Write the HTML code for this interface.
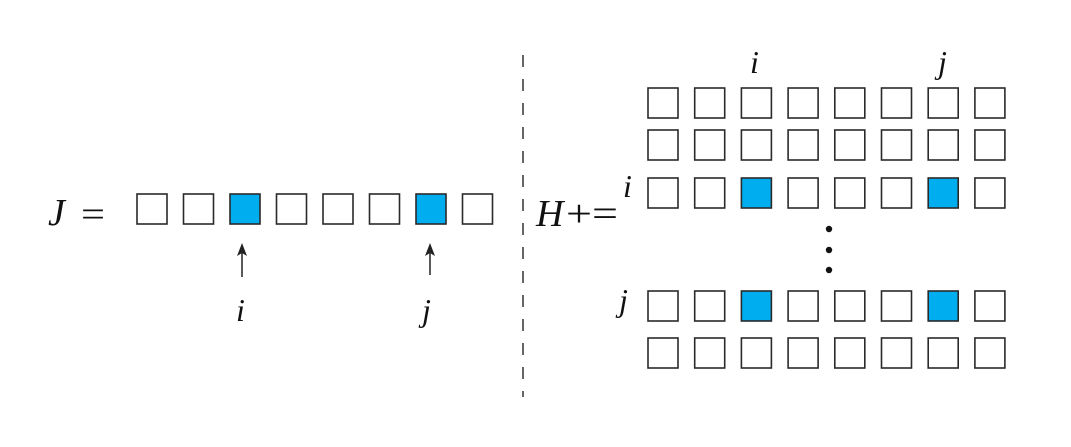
<!DOCTYPE html>
<html><head><style>body{margin:0;background:#fff}</style></head><body>
<svg width="1071" height="442" xmlns="http://www.w3.org/2000/svg" font-family="Liberation Serif, serif" font-style="italic">
<rect width="1071" height="442" fill="#fff"/>
<g stroke="#2a2a2a" stroke-width="1.6" fill="#fff">
<rect x="137" y="194" width="30" height="30"/>
<rect x="183.5" y="194" width="30" height="30"/>
<rect x="230" y="194" width="30" height="30" fill="#00AEEF"/>
<rect x="276.5" y="194" width="30" height="30"/>
<rect x="323" y="194" width="30" height="30"/>
<rect x="369.5" y="194" width="30" height="30"/>
<rect x="416" y="194" width="30" height="30" fill="#00AEEF"/>
<rect x="462.5" y="194" width="30" height="30"/>
</g>
<g id="grid" stroke="#2a2a2a" stroke-width="1.6" fill="#fff"></g>
<g stroke="#222" stroke-width="1.5"><line x1="242" y1="277" x2="242" y2="250"/><line x1="430" y1="275" x2="430" y2="250"/></g>
<polygon points="242,243 237,256 242,253 247,256" fill="#222"/>
<polygon points="430,243 425,256 430,253 435,256" fill="#222"/>
<line x1="523" y1="55" x2="523" y2="397" stroke="#333" stroke-width="1.5" stroke-dasharray="12,12"/>
<g fill="#111"><circle cx="829" cy="229" r="3.2"/><circle cx="829" cy="250" r="3.2"/><circle cx="829" cy="270" r="3.2"/></g>
<g fill="#111" font-size="32">
<text x="48" y="225" font-size="38">J</text><text x="81" y="226" font-style="normal" font-size="36" textLength="24" lengthAdjust="spacingAndGlyphs">=</text>
<text x="236" y="321">i</text><text x="422" y="321">j</text>
<text x="536" y="226" font-size="38">H</text><text x="566" y="226" font-style="normal" font-size="38" textLength="52" lengthAdjust="spacingAndGlyphs">+=</text>
<text x="750" y="73">i</text><text x="938" y="73">j</text>
<text x="623" y="197">i</text><text x="619" y="311">j</text>
</g>
<script>
var g=document.getElementById('grid'),rows=[88,130,178,291,338];
rows.forEach(function(y,r){for(var c=0;c<8;c++){var e=document.createElementNS('http://www.w3.org/2000/svg','rect');
e.setAttribute('x',648+c*46.7);e.setAttribute('y',y);e.setAttribute('width',30);e.setAttribute('height',30);
if((r==2||r==3)&&(c==2||c==6))e.setAttribute('fill','#00AEEF');g.appendChild(e);}});
</script>
</svg>
</body></html>
